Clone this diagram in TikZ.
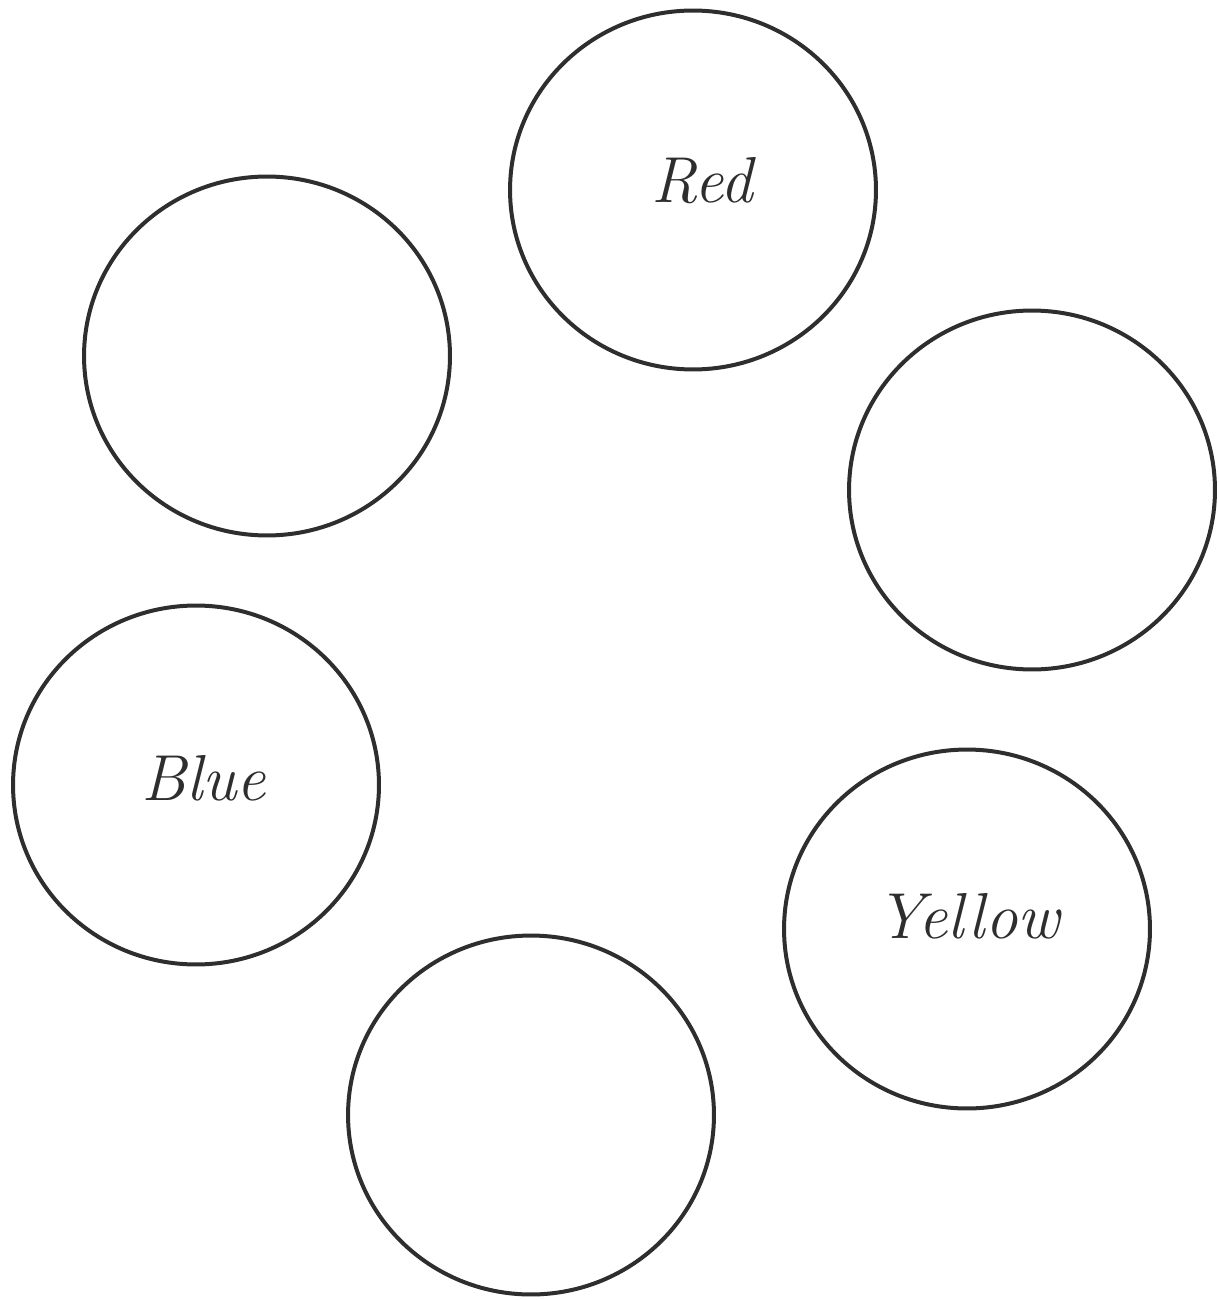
\documentclass[tikz,border=0pt]{standalone}
\usetikzlibrary{shapes.geometric}
\definecolor{tinta}{HTML}{2E2E2E}

\begin{document}
\begin{tikzpicture}[
    x=0.02cm, y=-0.02cm,
    % Círculos de cor
    roda/.style={
        draw=tinta, ellipse, line width=0.08cm,
        minimum width=7.32cm, minimum height=7.18cm, inner sep=0pt
    },
    % Nomes das cores
    nome/.style={
        text=tinta, font=\fontsize{37}{40}\selectfont\itshape,
        inner sep=0pt
    }
]
\useasboundingbox (0,0) rectangle (1218,1300);

% ---- CÍRCULOS ----
\node[roda] (c_red)    at ( 693,  190) {};
\node[roda] (c_esq)    at ( 267,  356) {};
\node[roda] (c_dir)    at (1032,  490) {};
\node[roda] (c_blue)   at ( 196,  785) {};
\node[roda] (c_yellow) at ( 967,  929) {};
\node[roda] (c_baixo)  at ( 531, 1115) {};

% ---- NOMES ----
\node[nome] (t_red)    at ( 702,  181) {Red};
\node[nome] (t_blue)   at ( 204,  778) {Blue};
\node[nome] (t_yellow) at ( 968,  916) {Yellow};

\end{tikzpicture}
\end{document}
